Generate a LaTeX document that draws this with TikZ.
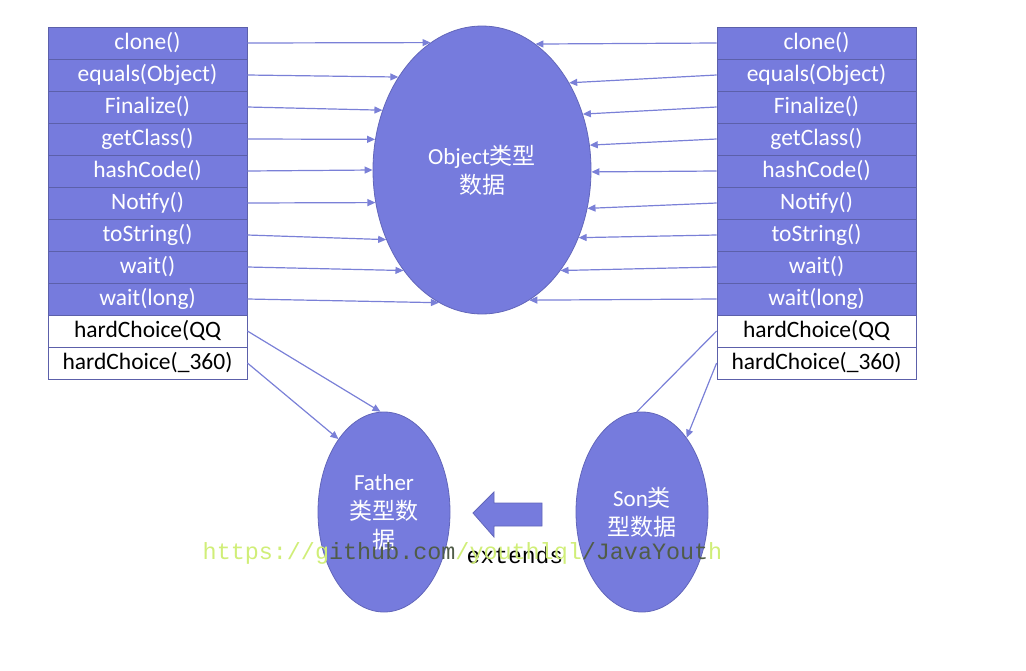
\documentclass[tikz,border=0pt]{standalone}
\usepackage{fontspec}
\setmainfont{Carlito}
\newfontfamily\cjk{Noto Sans CJK SC}
\newfontfamily\codefont{Liberation Mono}
\usepackage{tikz}
\usetikzlibrary{shapes.geometric,arrows.meta}
\definecolor{objfill}{RGB}{118,123,221}
\definecolor{objedge}{RGB}{98,102,186}
\definecolor{rowline}{RGB}{92,96,170}
\definecolor{linkblue}{RGB}{122,128,215}
\definecolor{markgreen}{RGB}{208,238,120}
\definecolor{markdark}{RGB}{80,92,72}

\begin{document}
\begin{tikzpicture}[
x=1pt, y=-1pt,
method/.style={
draw=rowline,
fill=objfill,
text=white,
line width=0.8pt,
minimum width=199pt,
minimum height=32pt,
inner sep=0pt,
font=\fontsize{23.5}{26}\selectfont
},
own/.style={
method,
fill=white,
text=black
},
blob/.style={
ellipse,
draw=objedge,
fill=objfill,
text=white,
line width=0.8pt,
inner sep=0pt,
align=center,
font=\fontsize{23}{29}\selectfont
},
arrow/.style={
-{Triangle[length=8pt,width=7pt]},
line width=1.2pt,
draw=linkblue
},
link/.style={
line width=1.2pt,
draw=linkblue
},
wmark/.style={
font=\codefont\fontsize{23.4}{26}\selectfont
}
]
\useasboundingbox (0,0) rectangle (1026,670);

% left table
\node[method] (fa1) at (147.5,43) {clone()};
\node[method] (fa2) at (147.5,75) {equals(Object)};
\node[method] (fa3) at (147.5,107) {Finalize()};
\node[method] (fa4) at (147.5,139) {getClass()};
\node[method] (fa5) at (147.5,171) {hashCode()};
\node[method] (fa6) at (147.5,203) {Notify()};
\node[method] (fa7) at (147.5,235) {toString()};
\node[method] (fa8) at (147.5,267) {wait()};
\node[method] (fa9) at (147.5,299) {wait(long)};
\node[own] (fa10) at (147.5,331) {hardChoice(QQ};
\node[own] (fa11) at (147.5,363) {hardChoice(\_360)};

% right table
\node[method] (so1) at (816.5,43) {clone()};
\node[method] (so2) at (816.5,75) {equals(Object)};
\node[method] (so3) at (816.5,107) {Finalize()};
\node[method] (so4) at (816.5,139) {getClass()};
\node[method] (so5) at (816.5,171) {hashCode()};
\node[method] (so6) at (816.5,203) {Notify()};
\node[method] (so7) at (816.5,235) {toString()};
\node[method] (so8) at (816.5,267) {wait()};
\node[method] (so9) at (816.5,299) {wait(long)};
\node[own] (so10) at (816.5,331) {hardChoice(QQ};
\node[own] (so11) at (816.5,363) {hardChoice(\_360)};

% data blobs
\node[blob, minimum width=218pt, minimum height=288pt] (obj) at (482,170)
{Object{\cjk 类型}\\{\cjk 数据}};

\node[blob, minimum width=132pt, minimum height=200pt] (father) at (384,512)
{Father\\{\cjk 类型数}\\{\cjk 据}};

\node[blob, minimum width=132pt, minimum height=200pt] (son) at (642,512)
{Son{\cjk 类}\\{\cjk 型数据}};

% inherited methods
\draw[arrow] (fa1.east) -- (obj.112.7);
\draw[arrow] (fa2.east) -- (obj.132.9);
\draw[arrow] (fa3.east) -- (obj.149.8);
\draw[arrow] (fa4.east) -- (obj.164.3);
\draw[arrow] (fa5.east) -- (obj.180);
\draw[arrow] (fa6.east) -- (obj.197.8);
\draw[arrow] (fa7.east) -- (obj.216.8);
\draw[arrow] (fa8.east) -- (obj.232.4);
\draw[arrow] (fa9.east) -- (obj.252.6);

\draw[arrow] (so1.west) -- (obj.67.3);
\draw[arrow] (so2.west) -- (obj.45.6);
\draw[arrow] (so3.west) -- (obj.29.7);
\draw[arrow] (so4.west) -- (obj.13.1);
\draw[arrow] (so5.west) -- (obj.-1);
\draw[arrow] (so6.west) -- (obj.-20.9);
\draw[arrow] (so7.west) -- (obj.-35.8);
\draw[arrow] (so8.west) -- (obj.-52.4);
\draw[arrow] (so9.west) -- (obj.-70.2);

% own methods
\draw[arrow] (fa10.east) -- (father.92);
\draw[arrow] (fa11.east) -- (father.122.5);
\draw[link] (so10.west) -- (son.93);
\draw[arrow] (so11.west) -- (son.59);

% extends
\draw[draw=objedge, fill=objfill, line width=0.8pt]
(473,513) -- (494,492) -- (494,503) -- (542,503) -- (542,526)
-- (494,526) -- (494,537) -- cycle;

\node[font=\codefont\fontsize{23}{26}\selectfont, text=black] (ext) at (515,555) {extends};

% watermark, darker where it crosses the blobs
\node[wmark] (wm) at (462.5,553)
{\textcolor{markgreen}{https://g}\textcolor{markdark}{ithub.com}\textcolor{markgreen}{/youthlql}\textcolor{markdark}{/JavaYout}\textcolor{markgreen}{h}};

\end{tikzpicture}
\end{document}
